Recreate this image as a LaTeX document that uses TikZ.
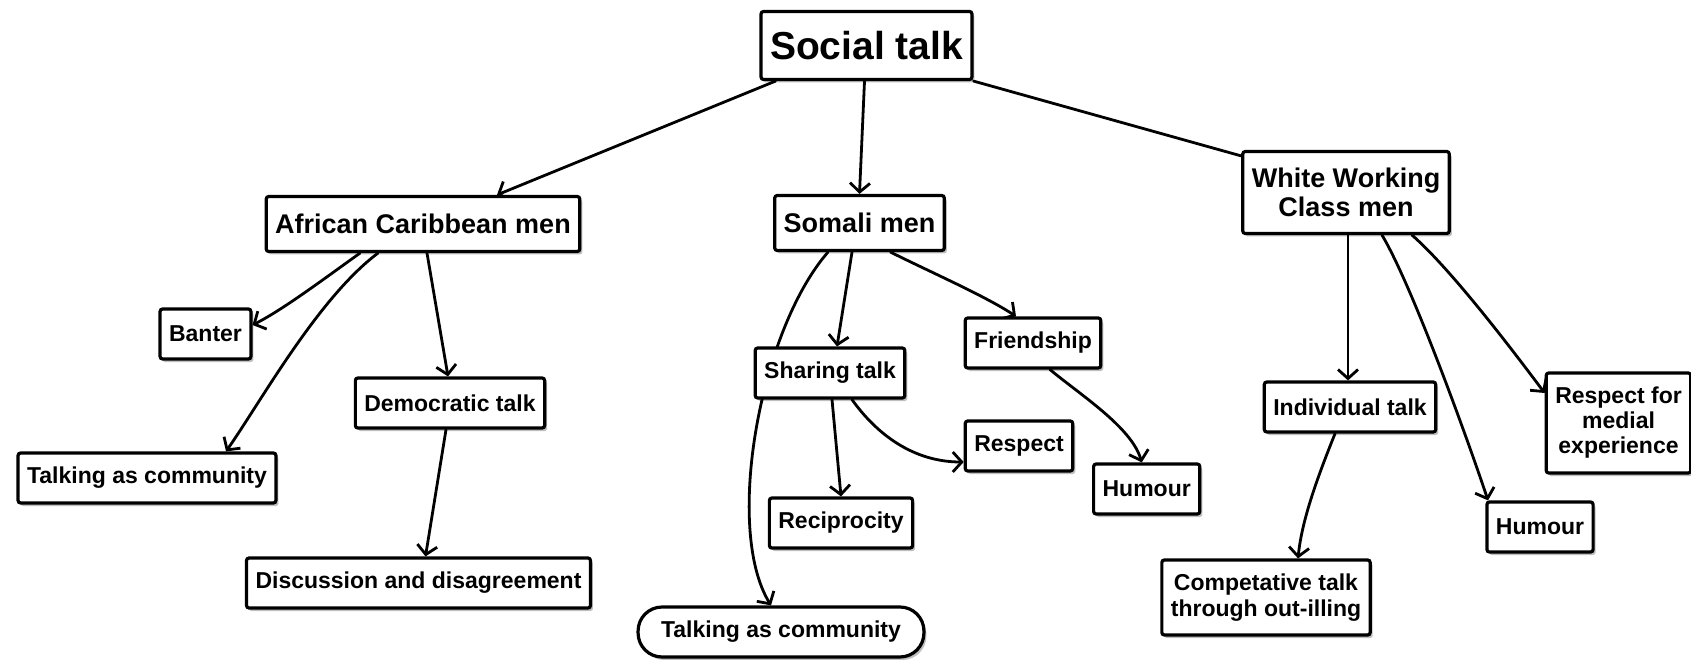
\documentclass[tikz,border=0pt]{standalone}
\usepackage{fontspec}
\setmainfont{Liberation Sans}
\usetikzlibrary{arrows.meta,shadows,backgrounds}

\tikzset{
  box/.style={draw=black, line width=3.2pt, rounded corners=2.5pt, fill=white,
    inner xsep=9pt, inner ysep=4pt, minimum height=50pt, align=center,
    font=\bfseries\fontsize{23}{26}\selectfont,
    drop shadow={shadow xshift=2.5pt, shadow yshift=-3pt, fill=black, opacity=0.25}},
  groupbox/.style={box, minimum height=55pt, font=\bfseries\fontsize{27}{29}\selectfont},
  topbox/.style={box, minimum height=68pt, font=\bfseries\fontsize{39}{42}\selectfont},
  pillbox/.style={box, rounded corners=24pt, inner xsep=23pt},
  link/.style={line width=2.8pt, line cap=round},
  arrowlink/.style={link, -{Straight Barb[length=9pt,width=20pt,line width=2.8pt]}}
}

\begin{document}
\begin{tikzpicture}[x=1pt, y=-1pt]
\useasboundingbox (0,0) rectangle (1691,660);

% top level
\node[topbox] (ST) at (866.5,45.5) {Social talk};

% the three groups
\node[groupbox] (ACM) at (423,224) {African Caribbean men};
\node[groupbox] (SM) at (859.5,223) {Somali men};
\node[groupbox, minimum height=82pt] (WWC) at (1346,192.5) {White Working\\Class men};

% African Caribbean branch
\node[box] (BN) at (205.5,334) {Banter};
\node[box] (TCL) at (147,478) {Talking as community};
\node[box] (DT) at (450,403) {Democratic talk};
\node[box] (DD) at (418.5,583) {Discussion and disagreement};

% Somali branch
\node[box] (SH) at (830,373) {Sharing talk};
\node[box] (FR) at (1033,343) {Friendship};
\node[box] (RS) at (1019,446) {Respect};
\node[box] (RC) at (841,523) {Reciprocity};
\node[box] (HM) at (1146.7,489) {Humour};
\node[pillbox] (TCR) at (781,632) {Talking as community};

% White Working Class branch
\node[box] (IT) at (1350,407) {Individual talk};
\node[box, minimum height=100pt, font=\bfseries\fontsize{23}{25}\selectfont] (RM) at (1618.5,423) {Respect for\\medial\\experience};
\node[box] (HR) at (1540,527) {Humour};
\node[box, minimum height=75pt] (CT) at (1266,597.5) {Competative talk\\through out-illing};

\begin{scope}[on background layer]
  \fill[white] (0,0) rectangle (1691,660);

  % from the root
  \draw[arrowlink] ([xshift=-91pt]ST.south) -- ([xshift=74pt]ACM.north);
  \draw[arrowlink] ([xshift=-2pt]ST.south) -- (SM.north);
  \draw[link] (ST.south east) -- ([yshift=-6pt]WWC.north west);

  % African Caribbean men
  \draw[arrowlink] ([xshift=-63pt]ACM.south) .. controls +(-35,25) and +(30,-15) .. ([yshift=9pt]BN.east);
  \draw[arrowlink] ([xshift=-45pt]ACM.south) .. controls +(-60,45) and +(35,-50) .. ([xshift=79pt]TCL.north);
  \draw[arrowlink] ([xshift=4pt]ACM.south) -- ([xshift=-2pt]DT.north);
  \draw[arrowlink] ([xshift=-4pt]DT.south) -- ([xshift=7pt]DD.north);

  % Somali men
  \draw[arrowlink] ([xshift=-7.5pt]SM.south) -- ([xshift=7pt]SH.north);
  \draw[arrowlink] ([xshift=31pt]SM.south) .. controls +(40,20) and +(-30,-20) .. ([xshift=-17pt]FR.north);
  \draw[arrowlink] ([xshift=-31.5pt]SM.south) .. controls +(-68,78) and +(-47,-77) .. ([xshift=-10pt]TCR.north);
  \draw[arrowlink] ([xshift=2pt]SH.south) -- (RC.north);
  \draw[arrowlink] ([xshift=22pt]SH.south) .. controls +(25,35) and +(-50,0) .. ([yshift=-16pt]RS.west);
  \draw[arrowlink] ([xshift=17pt]FR.south) .. controls +(30,25) and +(-10,-35) .. ([xshift=-5pt]HM.north);

  % White Working Class men
  \draw[arrowlink] ([xshift=2pt]WWC.south) -- ([xshift=-2pt]IT.north);
  \draw[arrowlink] ([xshift=36pt]WWC.south) .. controls +(30,50) and +(-20,-60) .. ([xshift=-52pt]HR.north);
  \draw[arrowlink] ([xshift=66pt]WWC.south) .. controls +(40,35) and +(-30,-40) .. ([yshift=30pt]RM.west);
  \draw[arrowlink] ([xshift=-15pt]IT.south) .. controls +(-16,40) and +(4,-40) .. ([xshift=32pt]CT.north);
\end{scope}
\end{tikzpicture}
\end{document}
